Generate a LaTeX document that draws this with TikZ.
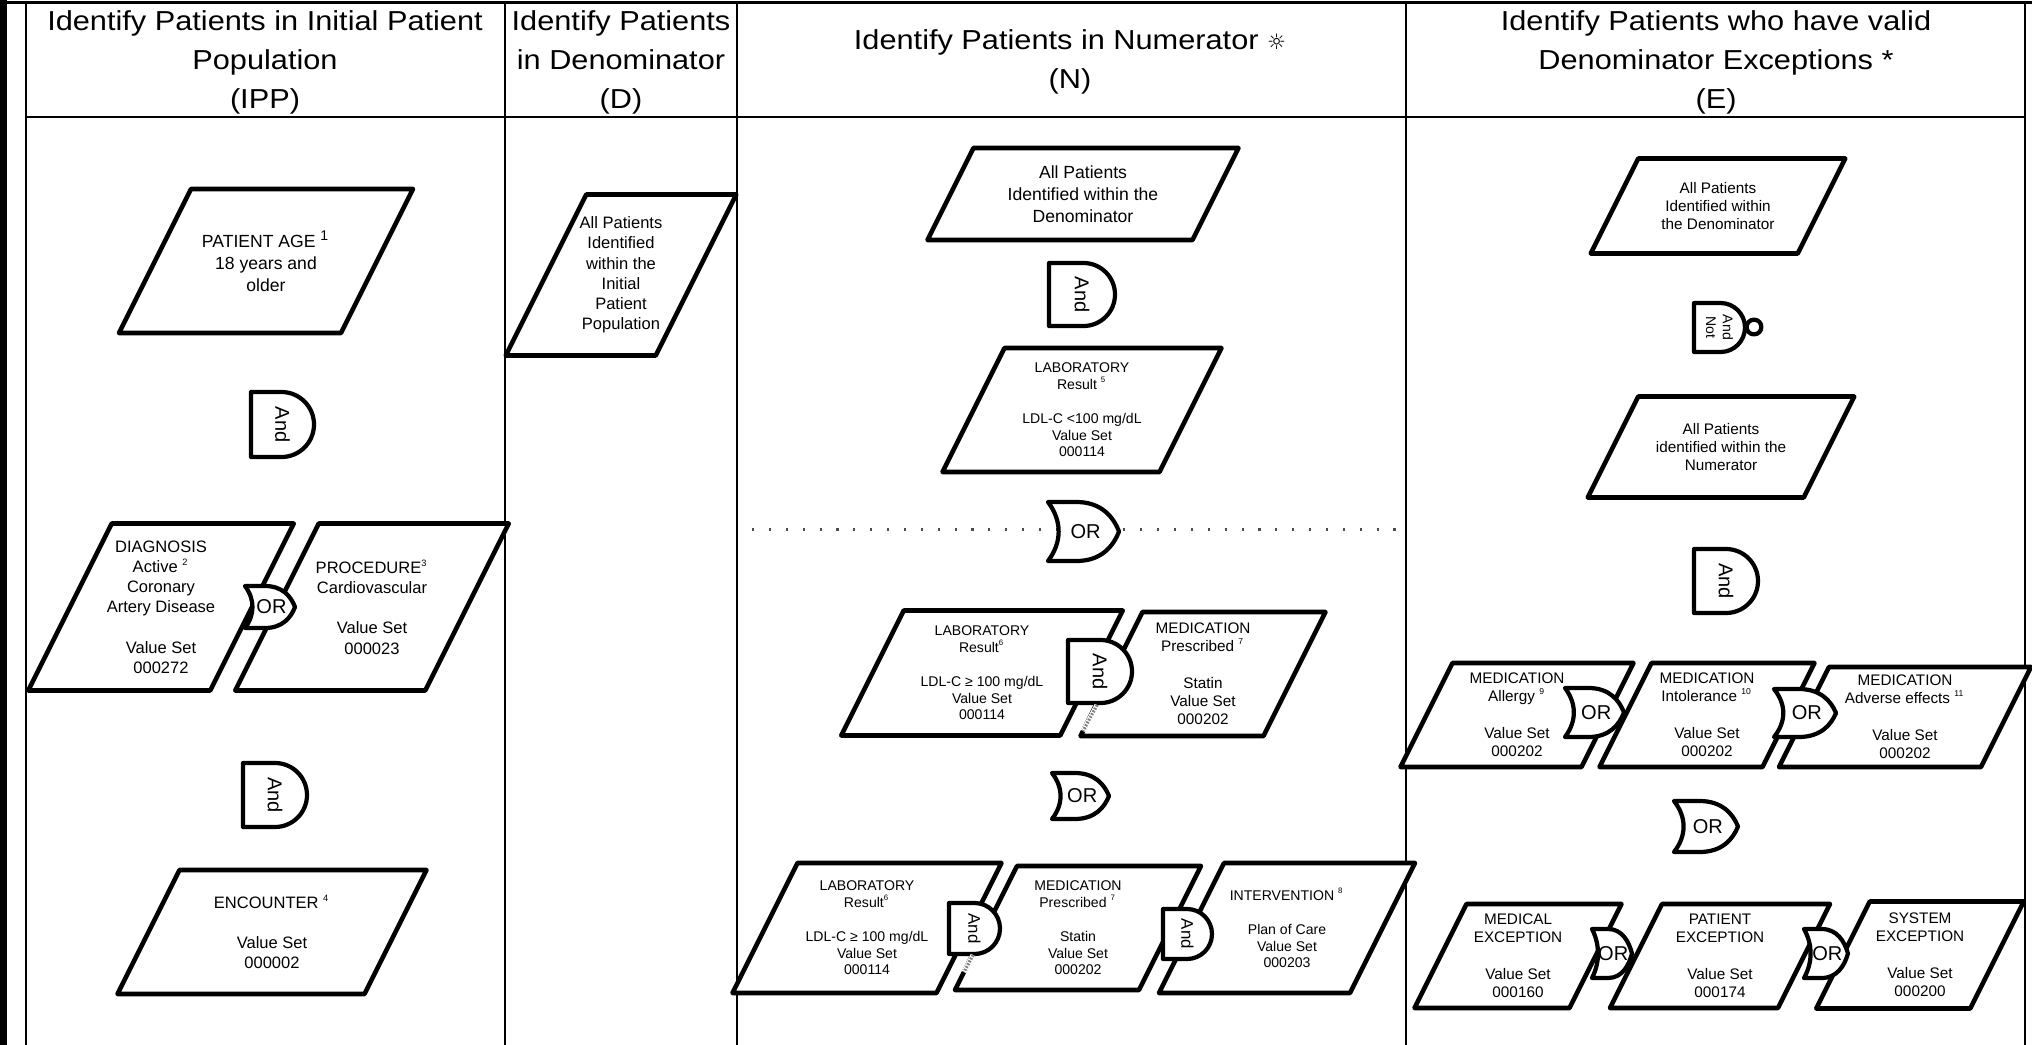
\documentclass[tikz,border=0pt]{standalone}
\usepackage{graphicx}
\usepackage{fontspec}
\setmainfont{Liberation Sans}
\newfontfamily\hdrfont[FakeStretch=1.12]{Liberation Sans}
\newfontfamily\sunfont{DejaVu Sans}

\newcommand{\fnum}[1]{\textsuperscript{\scalebox{0.8}{#1}}}

\tikzset{
  boxline/.style={line width=1.3pt, line join=round, fill=white},
  gateline/.style={line width=1.2pt, line join=round, fill=white},
  rule/.style={line width=0.45pt},
  headtext/.style={font=\hdrfont\fontsize{7.8pt}{11.1pt}\selectfont, align=center},
  bigtext/.style={font=\fontsize{5.0pt}{6.2pt}\selectfont, align=center},
  midtext/.style={font=\fontsize{4.7pt}{5.75pt}\selectfont, align=center},
  smalltext/.style={font=\fontsize{4.35pt}{5.2pt}\selectfont, align=center},
  tinytext/.style={font=\fontsize{4.0pt}{4.78pt}\selectfont, align=center},
  gatetext/.style={font=\fontsize{5.7pt}{6.5pt}\selectfont, align=center},
  smallgate/.style={font=\fontsize{4.8pt}{5.5pt}\selectfont, align=center},
  notgate/.style={font=\fontsize{4.0pt}{4.8pt}\selectfont, align=center},
  dotline/.style={draw=black!70, line width=0.6pt, dash pattern=on 0.6pt off 4.2pt},
}

% data box: name, text style, centre x, centre y, edge width, height, text
\newcommand{\databox}[7]{%
  \draw[boxline] ({#3-#5/2+#6/4},{#4-#6/2}) -- ++(#5,0) -- ++({-#6/2},#6) -- ++(-#5,0) -- cycle;
  \node[#2] (#1) at (#3,#4) {#7};
}

% and gate: name, text style, left x, top y, width, height, text
\newcommand{\andgate}[7]{%
  \draw[gateline] (#3,#4) -- ({#3+#5-#6/2},#4)
    .. controls ({#3+#5-#6/2+0.276*#6},#4) and ({#3+#5},{#4+#6/2-0.276*#6}) .. ({#3+#5},{#4+#6/2})
    .. controls ({#3+#5},{#4+#6/2+0.276*#6}) and ({#3+#5-#6/2+0.276*#6},{#4+#6}) .. ({#3+#5-#6/2},{#4+#6})
    -- (#3,{#4+#6}) -- cycle;
  \node[#2, rotate=-90] (#1) at ({#3+#5/2},{#4+#6/2}) {#7};
}

% or gate: name, text style, left x, top y, width, height
\newcommand{\orgate}[6]{%
  \draw[gateline] (#3,#4) -- ({#3+0.4*#5},#4)
    .. controls ({#3+0.75*#5},#4) and ({#3+0.92*#5},{#4+0.25*#6}) .. ({#3+#5},{#4+0.5*#6})
    .. controls ({#3+0.92*#5},{#4+0.75*#6}) and ({#3+0.75*#5},{#4+#6}) .. ({#3+0.4*#5},{#4+#6})
    -- (#3,{#4+#6})
    .. controls ({#3+0.2*#5},{#4+0.68*#6}) and ({#3+0.2*#5},{#4+0.32*#6}) .. (#3,#4) -- cycle;
  \node[#2] (#1) at ({#3+0.53*#5},{#4+0.5*#6}) {OR};
}

\begin{document}
\begin{tikzpicture}[x=0.01cm, y=-0.01cm]
    \useasboundingbox (0,0) rectangle (2032,1045);

    % --- table frame ---
    \fill (0,0) rectangle (7,1045);
    \draw[line width=0.9pt] (0,2.5) -- (2032,2.5);
    \draw[line width=0.6pt] (26,117) -- (2025,117);
    \foreach \x in {26,505,737,1406,2025} {
        \draw[rule] (\x,3) -- (\x,1045);
    }

    % --- column headers ---
    \node[headtext] (hIPP) at (265,62) {Identify Patients in Initial Patient\\Population\\(IPP)};
    \node[headtext] (hD) at (621,62) {Identify Patients\\in Denominator\\(D)};
    \node[headtext] (hN) at (1070,62) {Identify Patients in Numerator {\sunfont\fontsize{6pt}{6pt}\selectfont ☼}\\(N)};
    \node[headtext] (hE) at (1716,62) {Identify Patients who have valid\\Denominator Exceptions *\\(E)};

    % --- Initial Patient Population ---
    \databox{age}{bigtext}{266}{261}{222}{144}{PATIENT AGE \fnum{1}\\18 years and\\older}
    \databox{diag}{midtext}{161}{607}{182}{167}{DIAGNOSIS\\Active \fnum{2}\\Coronary\\Artery Disease\\[\baselineskip]Value Set\\000272}
    \databox{proc}{midtext}{372}{607}{190}{167}{PROCEDURE\fnum{3}\\Cardiovascular\\[\baselineskip]Value Set\\000023}
    \databox{enc}{midtext}{272}{932}{247}{124}{ENCOUNTER \fnum{4}\\[\baselineskip]Value Set\\000002}

    % --- Denominator ---
    \databox{ipp}{midtext}{621}{275}{150}{161}{All Patients\\Identified\\within the\\Initial\\Patient\\Population}

    % --- Numerator ---
    \databox{den}{bigtext}{1083}{194}{265}{92}{All Patients\\Identified within the\\Denominator}
    \databox{labA}{tinytext}{1082}{410}{217}{124}{LABORATORY\\Result \fnum{5}\\[\baselineskip]LDL-C <100 mg/dL\\Value Set\\000114}
    \databox{labB}{tinytext}{982}{673}{219}{125}{LABORATORY\\Result\fnum{6}\\[\baselineskip]LDL-C ≥ 100 mg/dL\\Value Set\\000114}
    \databox{medB}{smalltext}{1203}{674}{183}{124}{MEDICATION\\Prescribed \fnum{7}\\[\baselineskip]Statin\\Value Set\\000202}
    \databox{labC}{tinytext}{867}{928}{204}{130}{LABORATORY\\Result\fnum{6}\\[\baselineskip]LDL-C ≥ 100 mg/dL\\Value Set\\000114}
    \databox{medC}{tinytext}{1078}{928}{184}{124}{MEDICATION\\Prescribed \fnum{7}\\[\baselineskip]Statin\\Value Set\\000202}
    \databox{plan}{tinytext}{1287}{928}{191}{130}{INTERVENTION \fnum{8}\\[\baselineskip]Plan of Care\\Value Set\\000203}

    % --- Denominator Exceptions ---
    \databox{denE}{smalltext}{1718}{206}{207}{95}{All Patients\\Identified within\\the Denominator}
    \databox{num}{smalltext}{1721}{447}{216}{101}{All Patients\\identified within the\\Numerator}
    \databox{allergy}{smalltext}{1517}{715}{181}{104}{MEDICATION\\Allergy \fnum{9}\\[\baselineskip]Value Set\\000202}
    \databox{intol}{smalltext}{1707}{715}{163}{104}{MEDICATION\\Intolerance \fnum{10}\\[\baselineskip]Value Set\\000202}
    \databox{adverse}{smalltext}{1905}{717}{202}{100}{MEDICATION\\Adverse effects \fnum{11}\\[\baselineskip]Value Set\\000202}
    \databox{medexc}{smalltext}{1518}{956}{155}{104}{MEDICAL\\EXCEPTION\\[\baselineskip]Value Set\\000160}
    \databox{patexc}{smalltext}{1720}{956}{168}{104}{PATIENT\\EXCEPTION\\[\baselineskip]Value Set\\000174}
    \databox{sysexc}{smalltext}{1920}{955}{154}{107}{SYSTEM\\EXCEPTION\\[\baselineskip]Value Set\\000200}

    % dotted divider in the numerator column
    \draw[dotline] (752,529.5) -- (1404,529.5);

    % --- logic gates ---
    \andgate{andA}{gatetext}{251}{392}{63}{65}{And}
    \orgate{orA}{gatetext}{245}{586}{50}{42}
    \andgate{andB}{gatetext}{243}{763}{64}{64}{And}

    \andgate{andN}{gatetext}{1049}{263}{66}{63}{And}
    \orgate{orN}{gatetext}{1048}{502}{71}{59}
    \andgate{andNb}{gatetext}{1068}{640}{64}{63}{And}
    \orgate{orNb}{gatetext}{1052}{773}{57}{46}
    \andgate{andNc}{smallgate}{949}{903}{51}{51}{And}
    \andgate{andNd}{smallgate}{1163}{909}{49}{50}{And}

    \andgate{notE}{notgate}{1694}{303}{51}{49}{And\\Not}
    \draw[gateline] (1754,327) circle[radius=2.1pt];
    \andgate{andE}{gatetext}{1694}{549}{64}{64}{And}
    \orgate{orE}{gatetext}{1565}{688}{59}{49}
    \orgate{orEb}{gatetext}{1774}{689}{62}{48}
    \orgate{orEc}{gatetext}{1674}{801}{64}{51}
    \orgate{orEd}{gatetext}{1592}{929}{40}{49}
    \orgate{orEe}{gatetext}{1804}{929}{44}{49}

    % greyed edge pieces under the And gates
    \draw[white, line width=1.4pt] (1097,705) -- (1083,731);
    \draw[gray, line width=0.9pt, dash pattern=on 0.5pt off 0.4pt] (1097,705) -- (1083,731);
    \draw[white, line width=1.4pt] (973,955) -- (964,972);
    \draw[gray, line width=0.9pt, dash pattern=on 0.5pt off 0.4pt] (973,955) -- (964,972);
\end{tikzpicture}
\end{document}
